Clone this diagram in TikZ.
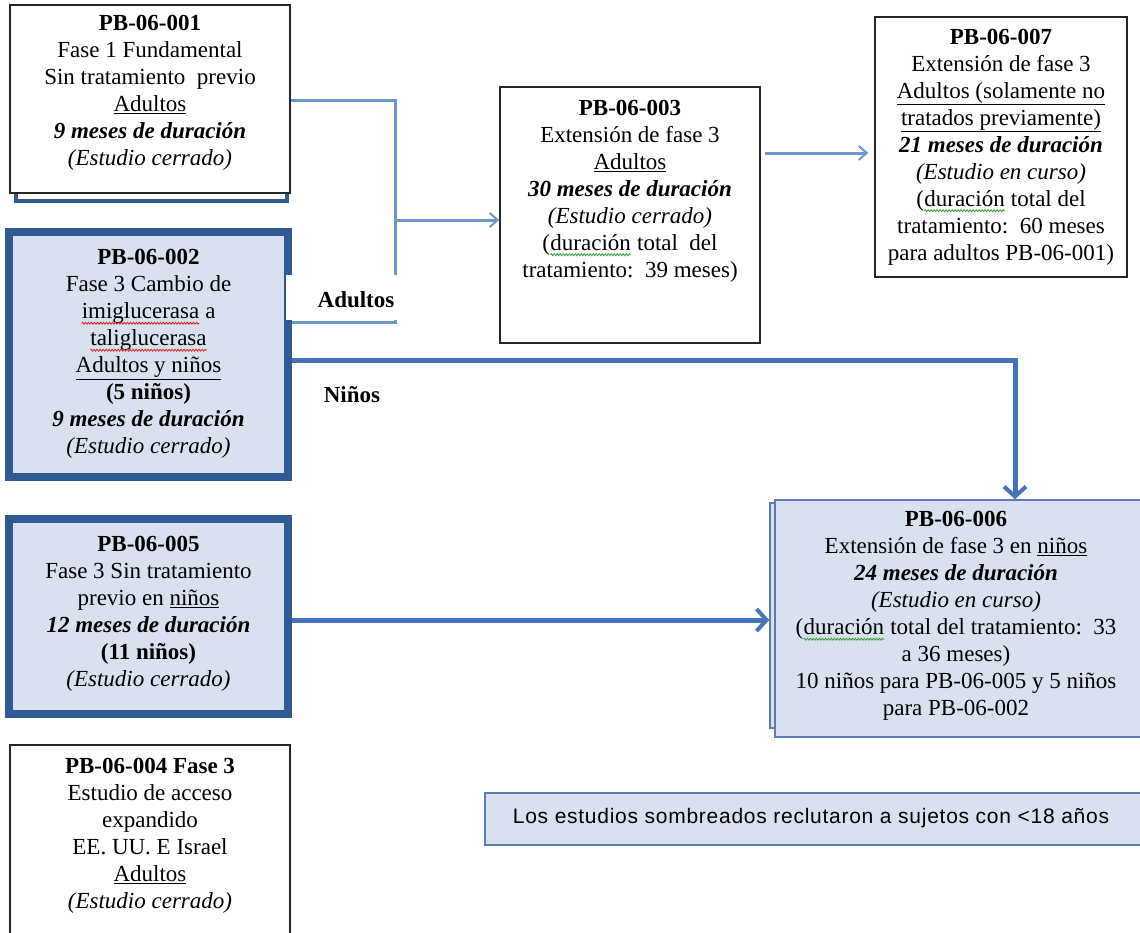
\documentclass[tikz,border=0pt]{standalone}
\usepackage{fontspec}
\setmainfont{Liberation Serif}
\newfontfamily\legfont[LetterSpace=3.5]{Liberation Sans}
\usetikzlibrary{arrows.meta,decorations.pathmorphing}
\definecolor{boxblue}{HTML}{2F5A94}
\definecolor{shade}{HTML}{D9E1F0}
\definecolor{thinblue}{HTML}{6C96D0}
\definecolor{thickblue}{HTML}{4573B9}
\definecolor{legline}{HTML}{5B7DB5}
\definecolor{spellred}{HTML}{E02020}
\definecolor{spellgreen}{HTML}{30A030}
\newcommand{\wv}[2]{\tikz[baseline=(w.base)]{\node[inner sep=0pt,outer sep=0pt](w){#2};\draw[#1,line width=0.8pt,decorate,decoration={zigzag,amplitude=1pt,segment length=3pt}] ([yshift=-4.5pt]w.base west) -- ([yshift=-4.5pt]w.base east);}}
\begin{document}
\begin{tikzpicture}[x=1pt,y=-1pt,
  txt/.style={align=center,font=\fontsize{23}{27}\selectfont,inner sep=0pt},
  plainbox/.style={draw=black!85,line width=1.5pt,fill=white,inner sep=0pt},
  shadebox/.style={draw=boxblue,line width=8pt,fill=shade,inner sep=0pt},
  thinline/.style={draw=thinblue,line width=3pt},
  thinarrow/.style={thinline,-{Straight Barb[length=8pt,width=14pt,line width=2pt]}},
  thickline/.style={draw=thickblue,line width=5pt},
  thickarrow/.style={thickline,-{Straight Barb[length=10pt,width=22pt,line width=4pt]}},
  lbl/.style={font=\fontsize{23}{27}\selectfont\bfseries,inner sep=0pt}]
\useasboundingbox (0,0) rectangle (1140,932);
% shadow box behind PB-06-001
\node[draw=boxblue,line width=4pt,fill=white,minimum width=271,minimum height=52,inner sep=0pt] (b1s) at (151,175) {};
% boxes
\node[plainbox,minimum width=280,minimum height=188] (b1) at (150,99) {};
\node[shadebox,minimum width=279,minimum height=245] (b2) at (148.5,354.5) {};
\node[shadebox,minimum width=279,minimum height=195] (b5) at (148.5,616.5) {};
\node[plainbox,minimum width=280,minimum height=200] (b4) at (150,845) {};
\node[plainbox,minimum width=260,minimum height=256] (b3) at (630,215) {};
\node[plainbox,minimum width=252,minimum height=260] (b7) at (1001,147) {};
\node[draw=legline,line width=1.5pt,fill=shade,minimum width=10,minimum height=225,inner sep=0pt] (b6b) at (775,615.5) {};
\node[draw=legline,line width=1.5pt,fill=shade,minimum width=370,minimum height=237,inner sep=0pt] (b6) at (960,618.5) {};
\node[draw=legline,line width=1.5pt,fill=shade,minimum width=660,minimum height=52,inner sep=0pt] (leg) at (815,819) {};
% texts
\node[txt] (t1) at (150,93) {\textbf{PB-06-001}\\Fase 1 Fundamental\\Sin tratamiento\ \ previo\\\underline{Adultos}\\\textbf{\textit{9 meses de duración}}\\\textit{(Estudio cerrado)}};
\node[txt] (t2) at (148.5,354) {\textbf{PB-06-002}\\Fase 3 Cambio de\\\wv{spellred}{imiglucerasa} a\\\wv{spellred}{taliglucerasa}\\\underline{Adultos y niños}\\\textbf{(5 niños)}\\\textbf{\textit{9 meses de duración}}\\\textit{(Estudio cerrado)}};
\node[txt] (t5) at (148.5,614) {\textbf{PB-06-005}\\Fase 3 Sin tratamiento\\previo en \underline{niños}\\\textbf{\textit{12 meses de duración}}\\\textbf{(11 niños)}\\\textit{(Estudio cerrado)}};
\node[txt] (t4) at (150,836) {\textbf{PB-06-004 Fase 3}\\Estudio de acceso\\expandido\\EE. UU. E Israel\\\underline{Adultos}\\\textit{(Estudio cerrado)}};
\node[txt] (t3) at (630,191) {\textbf{PB-06-003}\\Extensión de fase 3\\\underline{Adultos}\\\textbf{\textit{30 meses de duración}}\\\textit{(Estudio cerrado)}\\(\wv{spellgreen}{duración} total\ \ del\\tratamiento:\ \ 39 meses)};
\node[txt] (t7) at (1001,147) {\textbf{PB-06-007}\\Extensión de fase 3\\\underline{Adultos (solamente no}\\\underline{tratados previamente)}\\\textbf{\textit{21 meses de duración}}\\\textit{(Estudio en curso)}\\(\wv{spellgreen}{duración} total del\\tratamiento:\ \ 60 meses\\para adultos PB-06-001)};
\node[txt] (t6) at (956,616) {\textbf{PB-06-006}\\Extensión de fase 3 en \underline{niños}\\\textbf{\textit{24 meses de duración}}\\\textit{(Estudio en curso)}\\(\wv{spellgreen}{duración} total del tratamiento:\ \ 33\\a 36 meses)\\10 niños para PB-06-005 y 5 niños\\para PB-06-002};
\node[inner sep=0pt,font=\legfont\fontsize{21}{24}\selectfont] (tl) at (811,818) {Los estudios sombreados reclutaron a sujetos con <18 años};
% thin connectors (adults)
\coordinate (jtop) at (395,100);
\coordinate (jmid) at (395,220);
\coordinate (jbot) at (395,322);
\draw[thinline] (b1.east |- jtop) -- (jtop) -- (jbot) -- (b2.east |- jbot);
\draw[thinarrow] (jmid) -- (b3.west |- jmid);
\coordinate (a7) at (765,153);
\draw[thinarrow,shorten >=6pt] (a7) -- (a7 -| b7.west);
% label Adultos with white patch
\fill[white] (286,275) rectangle (398,320);
\node[lbl] (lad) at (356,300) {Adultos};
% thick connectors (children)
\coordinate (nin) at (1015,360);
\draw[thickarrow] (b2.east |- nin) -- (nin) -- (nin |- b6.north);
\draw[thickarrow] (b5.east |- 0,620) -- (b6b.west |- 0,620);
\node[lbl] (lni) at (352,395) {Niños};
\end{tikzpicture}
\end{document}
